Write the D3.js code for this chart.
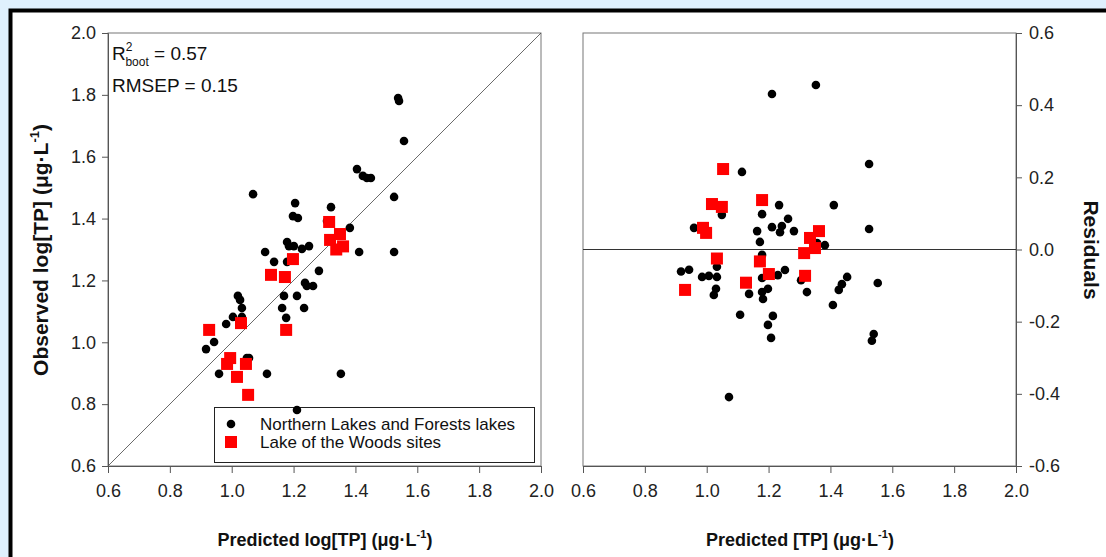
<!DOCTYPE html>
<html>
<head>
<meta charset="utf-8">
<script src="https://cdn.jsdelivr.net/npm/d3@7"></script>
<style>
  body { margin: 0; background: #dff0fd; }
  svg { display: block; font-family: "Liberation Sans", Arial, sans-serif; }
</style>
</head>
<body>
<div id="chart"></div>
<script>
// Left panel: observed vs predicted log[TP]
const nlfPredicted = [1.538, 1.541, 1.557, 1.405, 1.424, 1.437, 1.450, 1.069, 1.525, 1.205, 1.321, 1.198,
  1.214, 1.382, 1.308, 1.179, 1.185, 1.201, 1.227, 1.250, 1.108, 1.412, 1.525, 1.137, 1.179, 1.282, 1.237,
  1.243, 1.263, 1.020, 1.027, 1.169, 1.211, 1.033, 1.163, 1.234, 1.004, 1.033, 0.982, 1.176, 0.943, 0.917,
  1.049, 1.056, 0.959, 1.114, 1.353, 1.211];
const nlfObserved = [1.790, 1.780, 1.651, 1.560, 1.538, 1.531, 1.531, 1.479, 1.470, 1.450, 1.437, 1.408,
  1.402, 1.370, 1.392, 1.324, 1.311, 1.311, 1.302, 1.311, 1.292, 1.292, 1.292, 1.260, 1.260, 1.231, 1.192,
  1.182, 1.182, 1.150, 1.137, 1.150, 1.150, 1.111, 1.111, 1.111, 1.082, 1.082, 1.059, 1.079, 1.001, 0.978,
  0.949, 0.949, 0.898, 0.898, 0.898, 0.781];
const lowPredicted = [1.315, 1.350, 1.318, 1.360, 1.338, 1.198, 1.127, 1.172, 1.030, 1.176, 0.927, 0.995,
  0.985, 1.046, 1.017, 1.053];
const lowObserved = [1.389, 1.350, 1.331, 1.310, 1.300, 1.269, 1.218, 1.211, 1.062, 1.040, 1.040, 0.949,
  0.930, 0.930, 0.888, 0.830];

// Right panel: residuals vs predicted
const nlfResX = [1.211, 1.353, 1.525, 1.114, 1.049, 1.234, 1.411, 1.179, 1.263, 1.211, 1.243, 1.237, 1.282,
  1.163, 1.525, 0.959, 1.172, 1.357, 1.382, 1.179, 0.917, 0.943, 0.985, 1.007, 1.033, 1.033, 1.030, 1.023,
  1.137, 1.179, 1.179, 1.198, 1.182, 1.230, 1.253, 1.305, 1.324, 1.454, 1.437, 1.427, 1.408, 1.553, 1.108,
  1.214, 1.198, 1.208, 1.540, 1.534, 1.072];
const nlfResY = [0.431, 0.456, 0.237, 0.215, 0.096, 0.123, 0.123, 0.098, 0.085, 0.062, 0.065, 0.048, 0.051,
  0.051, 0.057, 0.060, 0.021, 0.018, 0.012, -0.015, -0.061, -0.056, -0.076, -0.073, -0.076, -0.048, -0.109,
  -0.126, -0.123, -0.079, -0.118, -0.109, -0.137, -0.071, -0.057, -0.085, -0.118, -0.076, -0.096, -0.112,
  -0.154, -0.093, -0.181, -0.184, -0.209, -0.245, -0.234, -0.253, -0.409];
const lowResX = [1.053, 1.017, 1.049, 1.179, 0.988, 0.998, 1.334, 1.363, 1.350, 1.315, 1.033, 1.172, 0.930,
  1.127, 1.201, 1.318];
const lowResY = [0.223, 0.126, 0.118, 0.137, 0.060, 0.046, 0.032, 0.051, 0.004, -0.010, -0.025, -0.033,
  -0.112, -0.092, -0.068, -0.073];

const xTicks = [0.6, 0.8, 1.0, 1.2, 1.4, 1.6, 1.8, 2.0];
const yTicksLeft = [0.6, 0.8, 1.0, 1.2, 1.4, 1.6, 1.8, 2.0];
const yTicksRight = [-0.6, -0.4, -0.2, 0.0, 0.2, 0.4, 0.6];

const W = 1106, H = 557;
const plotTop = 33, plotBottom = 466;
const fmt = d => d.toFixed(1);

const svg = d3.select("#chart").append("svg")
  .attr("width", W)
  .attr("height", H);

// white page with black border on left and top
svg.append("rect")
  .attr("x", 10).attr("y", 10)
  .attr("width", W).attr("height", H)
  .attr("fill", "white");
svg.append("path")
  .attr("d", `M10.5,${H} V10.5 H${W}`)
  .attr("fill", "none")
  .attr("stroke", "black")
  .attr("stroke-width", 4);

// scales
const x1 = d3.scaleLinear().domain([0.6, 2.0]).range([108, 541]);
const y1 = d3.scaleLinear().domain([0.6, 2.0]).range([plotBottom, plotTop]);
const x2 = d3.scaleLinear().domain([0.6, 2.0]).range([583, 1016]);
const y2 = d3.scaleLinear().domain([-0.6, 0.6]).range([plotBottom, plotTop]);

function styleAxis(g) {
  g.select(".domain").attr("stroke", "#555");
  g.selectAll(".tick line").attr("stroke", "#555");
  g.selectAll(".tick text")
    .attr("fill", "#222")
    .style("font-size", "18px")
    .style("font-family", "'Liberation Sans', Arial, sans-serif");
}

// ---- left panel ----
svg.append("rect")
  .attr("x", 108).attr("y", plotTop)
  .attr("width", 433).attr("height", plotBottom - plotTop)
  .attr("fill", "none")
  .attr("stroke", "#777");

svg.append("line")
  .attr("x1", x1(0.6)).attr("y1", y1(0.6))
  .attr("x2", x1(2.0)).attr("y2", y1(2.0))
  .attr("stroke", "#444")
  .attr("stroke-width", 0.8);

svg.append("g")
  .attr("transform", `translate(0,${plotBottom})`)
  .call(d3.axisBottom(x1).tickValues(xTicks).tickFormat(fmt).tickSizeOuter(0).tickSize(7).tickPadding(11))
  .call(styleAxis);

svg.append("g")
  .attr("transform", `translate(108,0)`)
  .call(d3.axisLeft(y1).tickValues(yTicksLeft).tickFormat(fmt).tickSizeOuter(0).tickSize(6).tickPadding(6))
  .call(styleAxis);

// legend (drawn under the points)
const legend = svg.append("g");
legend.append("rect")
  .attr("x", 214.5).attr("y", 407.5)
  .attr("width", 320).attr("height", 55)
  .attr("fill", "white")
  .attr("stroke", "#222");
legend.append("circle")
  .attr("cx", 231).attr("cy", 424).attr("r", 4.3).attr("fill", "black");
legend.append("rect")
  .attr("x", 225).attr("y", 436).attr("width", 12).attr("height", 12).attr("fill", "#ff0000");
legend.append("text")
  .attr("x", 260).attr("y", 430)
  .style("font-size", "17px").attr("fill", "#111")
  .text("Northern Lakes and Forests lakes");
legend.append("text")
  .attr("x", 260).attr("y", 448)
  .style("font-size", "17px").attr("fill", "#111")
  .text("Lake of the Woods sites");

// points
svg.append("g").selectAll("circle")
  .data(d3.range(nlfPredicted.length))
  .join("circle")
    .attr("cx", i => x1(nlfPredicted[i]))
    .attr("cy", i => y1(nlfObserved[i]))
    .attr("r", 4.3)
    .attr("fill", "black");

svg.append("g").selectAll("rect")
  .data(d3.range(lowPredicted.length))
  .join("rect")
    .attr("x", i => x1(lowPredicted[i]) - 6)
    .attr("y", i => y1(lowObserved[i]) - 6)
    .attr("width", 12).attr("height", 12)
    .attr("fill", "#ff0000");

// stats text
const stats = svg.append("text")
  .attr("x", 112).attr("y", 60)
  .style("font-size", "19px")
  .attr("fill", "#111");
stats.append("tspan").text("R");
stats.append("tspan").attr("dy", -9).style("font-size", "12px").text("2");
stats.append("tspan").attr("dx", -7).attr("dy", 15).style("font-size", "12px").text("boot");
stats.append("tspan").attr("dy", -6).text(" = 0.57");

svg.append("text")
  .attr("x", 112).attr("y", 92)
  .style("font-size", "19px")
  .attr("fill", "#111")
  .text("RMSEP = 0.15");

// axis titles
const xTitle1 = svg.append("text")
  .attr("x", 325).attr("y", 546)
  .attr("text-anchor", "middle")
  .style("font-size", "18px").style("font-weight", "bold")
  .attr("fill", "#111");
xTitle1.append("tspan").text("Predicted log[TP] (\u03bcg\u00b7L");
xTitle1.append("tspan").attr("dy", -8).style("font-size", "11px").text("-1");
xTitle1.append("tspan").attr("dy", 8).text(")");

const yTitle1 = svg.append("text")
  .attr("transform", "translate(48,250) rotate(-90)")
  .attr("text-anchor", "middle")
  .style("font-size", "21px").style("font-weight", "bold")
  .attr("fill", "#111");
yTitle1.append("tspan").text("Observed log[TP] (\u03bcg\u00b7L");
yTitle1.append("tspan").attr("dy", -9).style("font-size", "13px").text("-1");
yTitle1.append("tspan").attr("dy", 9).text(")");

// ---- right panel ----
svg.append("rect")
  .attr("x", 583).attr("y", plotTop)
  .attr("width", 433).attr("height", plotBottom - plotTop)
  .attr("fill", "none")
  .attr("stroke", "#777");

svg.append("line")
  .attr("x1", x2(0.6)).attr("x2", x2(2.0))
  .attr("y1", y2(0)).attr("y2", y2(0))
  .attr("stroke", "#333");

svg.append("g")
  .attr("transform", `translate(0,${plotBottom})`)
  .call(d3.axisBottom(x2).tickValues(xTicks).tickFormat(fmt).tickSizeOuter(0).tickSize(7).tickPadding(11))
  .call(styleAxis);

svg.append("g")
  .attr("transform", `translate(1016,0)`)
  .call(d3.axisRight(y2).tickValues(yTicksRight).tickFormat(fmt).tickSizeOuter(0).tickSize(6).tickPadding(7))
  .call(styleAxis);

svg.append("g").selectAll("circle")
  .data(d3.range(nlfResX.length))
  .join("circle")
    .attr("cx", i => x2(nlfResX[i]))
    .attr("cy", i => y2(nlfResY[i]))
    .attr("r", 4.3)
    .attr("fill", "black");

svg.append("g").selectAll("rect")
  .data(d3.range(lowResX.length))
  .join("rect")
    .attr("x", i => x2(lowResX[i]) - 6)
    .attr("y", i => y2(lowResY[i]) - 6)
    .attr("width", 12).attr("height", 12)
    .attr("fill", "#ff0000");

const xTitle2 = svg.append("text")
  .attr("x", 800).attr("y", 546)
  .attr("text-anchor", "middle")
  .style("font-size", "18px").style("font-weight", "bold")
  .attr("fill", "#111");
xTitle2.append("tspan").text("Predicted [TP] (\u03bcg\u00b7L");
xTitle2.append("tspan").attr("dy", -8).style("font-size", "11px").text("-1");
xTitle2.append("tspan").attr("dy", 8).text(")");

svg.append("text")
  .attr("transform", "translate(1084,250) rotate(90)")
  .attr("text-anchor", "middle")
  .style("font-size", "21px").style("font-weight", "bold")
  .attr("fill", "#111")
  .text("Residuals");
</script>
</body>
</html>
